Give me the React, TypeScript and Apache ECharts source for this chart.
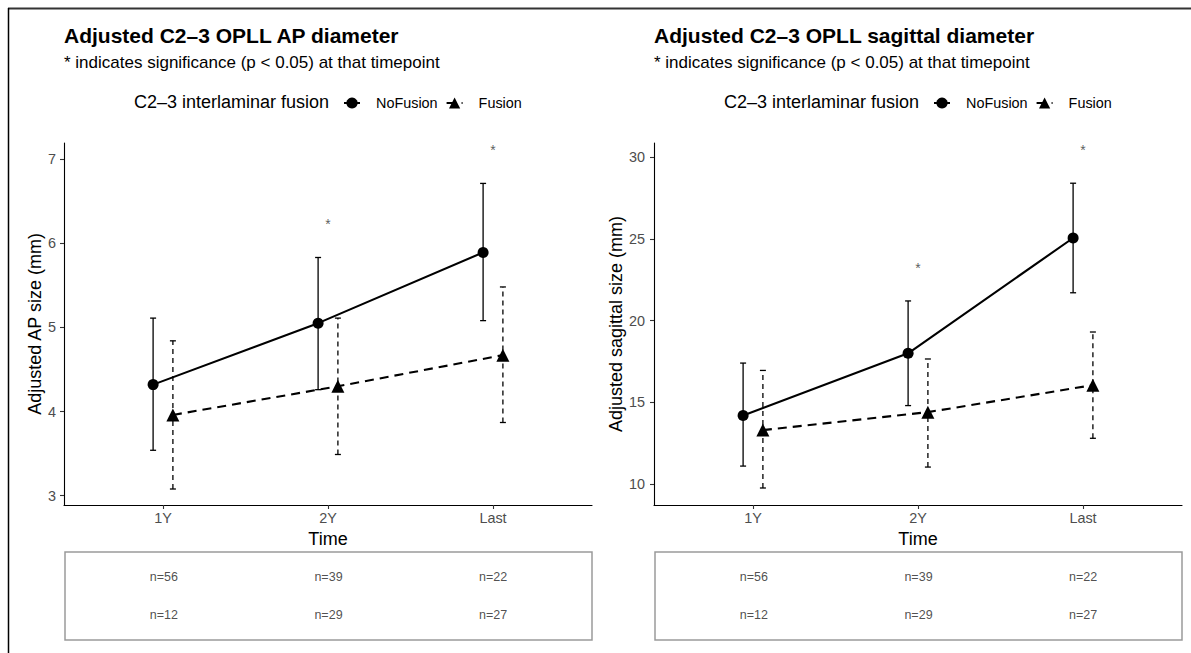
import React, { useEffect, useRef } from "react";
import * as echarts from "echarts";

const timepoints = ["1Y", "2Y", "Last"];
const groups = ["NoFusion", "Fusion"];
const dodge = [-0.06, 0.06];

// Adjusted AP diameter (mm)
const apNoFusionMean = [4.32, 5.05, 5.89];
const apNoFusionLow = [3.54, 4.26, 5.08];
const apNoFusionHigh = [5.11, 5.83, 6.71];
const apFusionMean = [3.96, 4.3, 4.67];
const apFusionLow = [3.08, 3.49, 3.87];
const apFusionHigh = [4.84, 5.11, 5.48];
const apStarY = [null, 6.26, 7.14];
const apTicks = [3, 4, 5, 6, 7];

// Adjusted sagittal diameter (mm)
const sagNoFusionMean = [14.2, 18.0, 25.05];
const sagNoFusionLow = [11.1, 14.8, 21.7];
const sagNoFusionHigh = [17.4, 21.2, 28.4];
const sagFusionMean = [13.3, 14.4, 16.05];
const sagFusionLow = [9.76, 11.04, 12.8];
const sagFusionHigh = [16.95, 17.65, 19.3];
const sagStarY = [null, 23.4, 30.6];
const sagTicks = [10, 15, 20, 25, 30];

// sample sizes per timepoint
const nNoFusion = ["n=56", "n=39", "n=22"];
const nFusion = ["n=12", "n=29", "n=27"];

const FONT = "'Liberation Sans', Arial, sans-serif";

function errRender(dashed: boolean) {
  return (params: any, api: any) => {
    const x = api.value(0);
    const lo = api.value(1);
    const hi = api.value(2);
    const a = api.coord([x, lo]);
    const b = api.coord([x, hi]);
    const cap = 3;
    const st = { stroke: "#000", lineWidth: 1.3, lineDash: dashed ? [5, 4] : null };
    const capSt = { stroke: "#000", lineWidth: 1.3 };
    return {
      type: "group",
      children: [
        { type: "line", shape: { x1: a[0], y1: a[1], x2: b[0], y2: b[1] }, style: st },
        { type: "line", shape: { x1: a[0] - cap, y1: a[1], x2: a[0] + cap, y2: a[1] }, style: capSt },
        { type: "line", shape: { x1: b[0] - cap, y1: b[1], x2: b[0] + cap, y2: b[1] }, style: capSt },
      ],
    };
  };
}

function pts(mean: number[], off: number) {
  return mean.map((v, i) => [i + 1 + off, v]);
}
function errs(lo: number[], hi: number[], off: number) {
  return lo.map((v, i) => [i + 1 + off, v, hi[i]]);
}
function stars(ys: (number | null)[]) {
  return ys.map((v, i) => (v == null ? null : [i + 1, v])).filter((d) => d != null);
}

export default function App() {
  const ref = useRef<HTMLDivElement>(null);
  useEffect(() => {
    if (!ref.current) return;
    const chart = echarts.init(ref.current, null, { renderer: "svg" });

    const panels = [
      {
        left: 64,
        title: "Adjusted C2\u20133 OPLL AP diameter",
        yName: "Adjusted AP size (mm)",
        yNameGap: 18,
        labelMargin: 8,
        min: 2.89,
        max: 7.19,
        ticks: apTicks,
        nf: [apNoFusionMean, apNoFusionLow, apNoFusionHigh],
        f: [apFusionMean, apFusionLow, apFusionHigh],
        star: apStarY,
      },
      {
        left: 654,
        title: "Adjusted C2\u20133 OPLL sagittal diameter",
        yName: "Adjusted sagittal size (mm)",
        yNameGap: 27,
        labelMargin: 9,
        min: 8.72,
        max: 30.86,
        ticks: sagTicks,
        nf: [sagNoFusionMean, sagNoFusionLow, sagNoFusionHigh],
        f: [sagFusionMean, sagFusionLow, sagFusionHigh],
        star: sagStarY,
      },
    ];

    const grid: any[] = [];
    const xAxis: any[] = [];
    const yAxis: any[] = [];
    const series: any[] = [];
    const title: any[] = [];
    const legend: any[] = [];
    const graphic: any[] = [
      { type: "line", shape: { x1: 8, y1: 8.5, x2: 1191, y2: 8.5 }, style: { stroke: "#333", lineWidth: 2 } },
      { type: "line", shape: { x1: 8.5, y1: 8, x2: 8.5, y2: 653 }, style: { stroke: "#000", lineWidth: 1.5 } },
    ];

    panels.forEach((p, k) => {
      const gi = k * 2;
      grid.push({ left: p.left, top: 143, width: 528, height: 362 });
      grid.push({
        left: p.left + 1,
        top: 552,
        width: 527,
        height: 88,
        show: true,
        borderColor: "#9a9a9a",
        borderWidth: 1.5,
        backgroundColor: "transparent",
      });
      xAxis.push({
        type: "value",
        gridIndex: gi,
        min: 0.4,
        max: 3.6,
        splitLine: { show: false },
        axisLine: { show: true, onZero: false, lineStyle: { color: "#000", width: 1.1 } },
        axisTick: { show: true, customValues: [1, 2, 3], length: 4, lineStyle: { color: "#333", width: 1.1 } },
        axisLabel: {
          customValues: [1, 2, 3],
          formatter: (v: number) => timepoints[Math.round(v) - 1] ?? "",
          color: "#4D4D4D",
          fontSize: 14.4,
          fontFamily: FONT,
          margin: 6,
        },
        name: "Time",
        nameLocation: "middle",
        nameGap: 25,
        nameTextStyle: { color: "#000", fontSize: 18, fontFamily: FONT },
      });
      yAxis.push({
        type: "value",
        gridIndex: gi,
        min: p.min,
        max: p.max,
        splitLine: { show: false },
        axisLine: { show: true, onZero: false, lineStyle: { color: "#000", width: 1.1 } },
        axisTick: { show: true, customValues: p.ticks, length: 4, lineStyle: { color: "#333", width: 1.1 } },
        axisLabel: {
          customValues: p.ticks,
          color: "#4D4D4D",
          fontSize: 14.4,
          fontFamily: FONT,
          margin: p.labelMargin,
        },
        name: p.yName,
        nameLocation: "middle",
        nameGap: p.yNameGap,
        nameTextStyle: { color: "#000", fontSize: 18, fontFamily: FONT },
      });
      xAxis.push({ type: "value", gridIndex: gi + 1, min: 0.4, max: 3.6, show: false });
      yAxis.push({ type: "value", gridIndex: gi + 1, min: 0, max: 1, show: false });

      const data = [p.nf, p.f];
      groups.forEach((g, j) => {
        const [mean, lo, hi] = data[j];
        series.push({
          name: g + "_err",
          type: "custom",
          xAxisIndex: gi,
          yAxisIndex: gi,
          renderItem: errRender(j === 1),
          data: errs(lo, hi, dodge[j]),
          z: 1,
          silent: true,
        });
        series.push({
          name: g,
          type: "line",
          xAxisIndex: gi,
          yAxisIndex: gi,
          data: pts(mean, dodge[j]),
          symbol: j === 0 ? "circle" : "triangle",
          symbolSize: j === 0 ? 11 : 13,
          showSymbol: true,
          lineStyle: { color: "#000", width: 2.1, type: j === 0 ? "solid" : [9, 6] },
          itemStyle: { color: "#000" },
          z: 3,
        });
      });
      series.push({
        name: "signif",
        type: "scatter",
        xAxisIndex: gi,
        yAxisIndex: gi,
        data: stars(p.star),
        symbolSize: 0,
        label: {
          show: true,
          position: "inside",
          formatter: "*",
          color: "#333",
          fontSize: 14,
          fontFamily: FONT,
          offset: [0, 3],
        },
        silent: true,
      });
      const rows = [nNoFusion, nFusion];
      const rowY = [0.72, 0.28];
      rows.forEach((r, ri) => {
        series.push({
          name: "table" + ri,
          type: "scatter",
          xAxisIndex: gi + 1,
          yAxisIndex: gi + 1,
          data: r.map((t, i) => [i + 1, rowY[ri], t]),
          symbolSize: 0,
          label: {
            show: true,
            position: "inside",
            formatter: (d: any) => d.value[2],
            color: "#222",
            fontSize: 12.5,
            fontFamily: FONT,
          },
          silent: true,
        });
      });

      title.push({
        text: p.title,
        subtext: "* indicates significance (p < 0.05) at that timepoint",
        left: p.left,
        top: 23,
        itemGap: 5,
        padding: 0,
        textStyle: { fontSize: 21, fontWeight: "bold", color: "#000", fontFamily: FONT, lineHeight: 24 },
        subtextStyle: { fontSize: 17, color: "#000", fontFamily: FONT, lineHeight: 20 },
      });
      graphic.push({
        type: "text",
        left: p.left + 70,
        top: 93,
        style: { text: "C2\u20133 interlaminar fusion", fontSize: 18, fill: "#000", fontFamily: FONT },
      });
      legend.push({
        data: groups,
        left: p.left + 279,
        top: 96,
        itemWidth: 16,
        itemHeight: 14,
        itemGap: 8,
        padding: 0,
        textStyle: { fontSize: 14.4, color: "#000", fontFamily: FONT, padding: [0, 0, 0, 11] },
      });
    });

    chart.setOption({
      animation: false,
      backgroundColor: "#fff",
      textStyle: { fontFamily: FONT },
      title,
      legend,
      grid,
      xAxis,
      yAxis,
      series,
      graphic,
    });
    return () => chart.dispose();
  }, []);
  return (
    <div
      ref={ref}
      style={{ position: "fixed", left: 0, top: 0, width: 1191, height: 653, background: "#fff" }}
    />
  );
}
